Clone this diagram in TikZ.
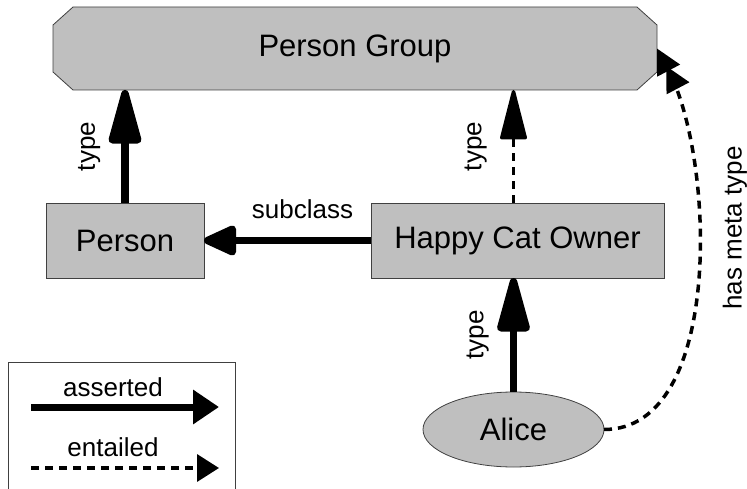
\documentclass[tikz,border=0pt]{standalone}
\usepackage{fontspec}
\setmainfont{Liberation Sans}
\usetikzlibrary{positioning, arrows.meta, shapes.geometric, calc, backgrounds}

\tikzset{
  concept/.style={draw=black!75, fill=black!25, line width=0.8pt, outer sep=0pt,
    inner sep=0pt, font=\fontsize{31}{36}\selectfont},
  lbl/.style={inner sep=0pt, font=\fontsize{26}{30}\selectfont},
  asserted/.style={line width=7.5pt},
  entailed/.style={line width=3.5pt, dash pattern=on 8pt off 6pt},
}

\begin{document}
\begin{tikzpicture}[x=1pt, y=-1pt]
    \useasboundingbox (0,0) rectangle (747,489);

    % --- Concepts ---
    \node[concept, draw=none, fill=none, rectangle, minimum width=604pt, minimum height=83pt]
          (pg) at (355,48.5) {Person Group};
    \begin{scope}[on background layer]
      % chamfered outline of the group
      \draw[concept] ($(pg.north west)+(20,0)$) -- ($(pg.north east)+(-20,0)$)
        -- ($(pg.north east)+(0,18)$) -- ($(pg.south east)+(0,-18)$)
        -- ($(pg.south east)+(-20,0)$) -- ($(pg.south west)+(20,0)$)
        -- ($(pg.south west)+(0,-18)$) -- ($(pg.north west)+(0,18)$) -- cycle;
    \end{scope}
    \node[concept, rectangle, minimum width=158pt, minimum height=75pt]
          (person) at (125,240.5) {Person};
    \node[concept, rectangle, minimum width=293pt, minimum height=75pt]
          (hco) at (517.5,240.5) {Happy Cat Owner};
    % Individual
    \node[concept, ellipse, minimum width=181pt, minimum height=75pt]
          (alice) at (513.5,429.5) {Alice};

    % --- Asserted links ---
    \draw[asserted, -{Triangle[length=65pt, width=33pt, round]}]
        (person.north) -- node[lbl, midway, sloped, above=21pt] {type} (pg.south -| person.north);
    \draw[asserted, -{Triangle[length=38pt, width=32pt, round]}]
        (hco.west) -- node[lbl, pos=0.41, above=18pt] {subclass} (person.east);
    \draw[asserted, -{Triangle[length=65pt, width=33pt, round]}]
        (alice.north) -- node[lbl, midway, sloped, above=21pt] {type} (hco.south -| alice.north);

    % --- Entailed links ---
    \draw[entailed, -{Triangle[length=55pt, width=27pt, round]}]
        (hco.north -| alice.north) -- node[lbl, midway, sloped, above=25pt] {type} (pg.south -| alice.north);
    \draw[entailed, -{Triangle[length=25pt, width=25pt, sep=-5pt]Triangle[length=25pt, width=25pt]}]
        (alice.east) .. controls +(120,0) and +(58,110) .. (pg.east);
    \node[lbl, rotate=90] (metatype) at (735,228) {has meta type};

    % --- Legend ---
    \draw[black!75, line width=0.8pt, fill=white] (8,362) rectangle (235,520);
    \coordinate (a1) at (31,407);
    \coordinate (a2) at (219,407);
    \coordinate (e1) at (31,468);
    \coordinate (e2) at (219,468);
    \draw[asserted, line width=7pt, -{Triangle[length=26pt, width=33pt]}] (a1) -- (a2);
    \node[lbl] (asslbl) at (113,387) {asserted};
    \draw[entailed, -{Triangle[length=22pt, width=27pt]}] (e1) -- (e2);
    \node[lbl] (entlbl) at (113,447) {entailed};

\end{tikzpicture}
\end{document}
